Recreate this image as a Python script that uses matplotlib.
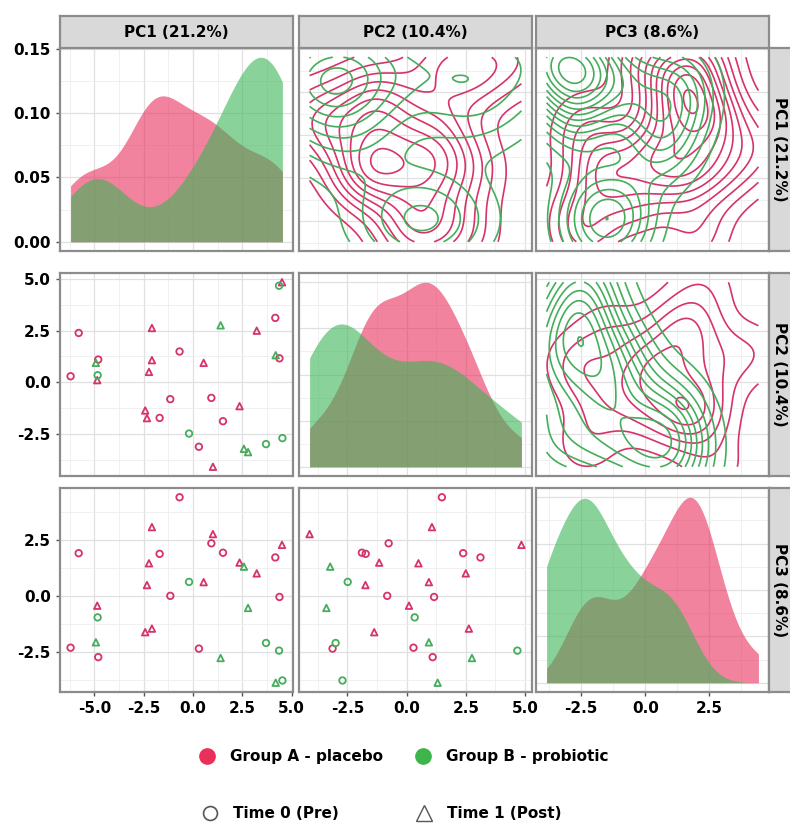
import numpy as np
import matplotlib.pyplot as plt
from matplotlib.lines import Line2D
from matplotlib.ticker import MultipleLocator, FixedLocator

# PCA scores
pc1 = [4.51, 4.36, 4.17, 3.23, 1.40, -5.79, -2.08, -0.68, -2.08, 0.54, -2.23,
       -4.80, -4.92, -4.83, -4.85, -6.20, 4.19, 4.38, -1.15, 0.93, 2.36, -2.42,
       -2.33, -1.69, 1.52, -0.20, 0.30, 2.58, 2.79, 3.70, 4.53, 1.01]
pc2 = [4.85, 4.68, 3.12, 2.50, 2.76, 2.39, 2.63, 1.49, 1.07, 0.94, 0.50,
       1.10, 0.94, 0.34, 0.10, 0.29, 1.31, 1.16, -0.82, -0.76, -1.16, -1.37,
       -1.74, -1.73, -1.89, -2.49, -3.13, -3.23, -3.39, -3.00, -2.71, -4.10]
pc3 = [2.29, -2.42, 1.73, 1.02, -2.75, 1.92, -1.44, 4.41, 3.08, 0.63, 1.47,
       -2.71, -2.05, -0.94, -0.42, -2.29, -3.85, -0.03, 0.02, 2.36, 1.50, -1.60,
       0.50, 1.89, 1.94, 0.64, -2.33, 1.32, -0.52, -2.08, -3.75, 2.77]
group = ['A', 'B', 'A', 'A', 'B', 'A', 'A', 'A', 'A', 'A', 'A',
         'A', 'B', 'B', 'A', 'A', 'B', 'A', 'A', 'A', 'A', 'A',
         'A', 'A', 'A', 'B', 'A', 'B', 'B', 'B', 'B', 'A']
time = ['post', 'pre', 'pre', 'post', 'post', 'pre', 'post', 'pre', 'post', 'post', 'post',
        'pre', 'post', 'pre', 'post', 'pre', 'post', 'pre', 'pre', 'pre', 'post', 'post',
        'post', 'pre', 'pre', 'pre', 'pre', 'post', 'post', 'pre', 'pre', 'post']

var_labels = ['PC1 (21.2%)', 'PC2 (10.4%)', 'PC3 (8.6%)']
group_labels = {'A': 'Group A - placebo', 'B': 'Group B - probiotic'}
time_labels = {'pre': 'Time 0 (Pre)', 'post': 'Time 1 (Post)'}
var_ticks = [[-5.0, -2.5, 0.0, 2.5, 5.0], [-2.5, 0.0, 2.5, 5.0], [-2.5, 0.0, 2.5]]
dens_ticks = [0.00, 0.05, 0.10, 0.15]

line_col = {'A': '#D6336A', 'B': '#45AD5C'}
fill_col = {'A': '#E8305F', 'B': '#3BB557'}
marker = {'pre': 'o', 'post': '^'}

data = np.array([pc1, pc2, pc3])
group = np.array(group)
time = np.array(time)


def bw_nrd0(x):
    q75, q25 = np.percentile(x, [75, 25])
    lo = min(np.std(x, ddof=1), (q75 - q25) / 1.34)
    return 0.9 * lo * len(x) ** -0.2


def kde1d(x, grid):
    h = bw_nrd0(x)
    u = (grid[:, None] - x[None, :]) / h
    return np.exp(-0.5 * u ** 2).sum(axis=1) / (len(x) * h * np.sqrt(2 * np.pi))


def bw_nrd(x):
    q75, q25 = np.percentile(x, [75, 25])
    return 4 * 1.06 * min(np.std(x, ddof=1), (q75 - q25) / 1.34) * len(x) ** -0.2


def kde2d(x, y, gx, gy):
    hx, hy = bw_nrd(x) / 4, bw_nrd(y) / 4
    ax_ = np.exp(-0.5 * ((gx[:, None] - x[None, :]) / hx) ** 2) / np.sqrt(2 * np.pi)
    ay_ = np.exp(-0.5 * ((gy[:, None] - y[None, :]) / hy) ** 2) / np.sqrt(2 * np.pi)
    return ax_ @ ay_.T / (len(x) * hx * hy)


def pretty(lo, hi, n=10):
    cell = (hi - lo) / n
    U = 10 ** np.floor(np.log10(cell))
    unit = U
    if 2 * U - cell < 1.5 * (cell - unit):
        unit = 2 * U
        if 5 * U - cell < 2.75 * (cell - unit):
            unit = 5 * U
            if 10 * U - cell < 1.5 * (cell - unit):
                unit = 10 * U
    return np.arange(np.floor(lo / unit), np.ceil(hi / unit) + 1) * unit


W, H = 790, 824
fig = plt.figure(figsize=(W / 100, H / 100), dpi=100)


def rect(x0, y0, x1, y1):
    return [x0 / W, 1 - y1 / H, (x1 - x0) / W, (y1 - y0) / H]


cols = [(60, 293), (299, 532), (536, 769)]
rows = [(48, 251), (273, 476), (488, 692)]

rng = [(d.min(), d.max()) for d in data]
lims = [(lo - 0.05 * (hi - lo), hi + 0.05 * (hi - lo)) for lo, hi in rng]


def style(ax):
    ax.set_facecolor('white')
    ax.grid(True, which='major', color='#E0E0E0', lw=0.9)
    ax.grid(True, which='minor', color='#EEEEEE', lw=0.6)
    ax.set_axisbelow(True)
    for s in ax.spines.values():
        s.set_color('#8C8C8C')
        s.set_linewidth(1.6)
    ax.tick_params(which='both', length=0)
    ax.tick_params(which='major', length=3, color='#555555', width=1)
    ax.tick_params(labelsize=11)


for i in range(3):
    for j in range(3):
        ax = fig.add_axes(rect(cols[j][0], rows[i][0], cols[j][1], rows[i][1]))
        style(ax)
        ax.set_xlim(lims[j])
        ax.xaxis.set_major_locator(FixedLocator(var_ticks[j]))
        ax.xaxis.set_minor_locator(MultipleLocator(1.25))
        if i == j:
            grid = np.linspace(rng[j][0], rng[j][1], 512)
            top = 0
            for g in ['A', 'B']:
                d = kde1d(data[j][group == g], grid)
                top = max(top, d.max())
                ax.fill_between(grid, 0, d, color=fill_col[g], alpha=0.6, lw=0)
            ax.set_ylim(-0.05 * top, top * 1.05)
            if i == 0:
                ax.yaxis.set_major_locator(FixedLocator(dens_ticks))
                ax.yaxis.set_minor_locator(MultipleLocator(0.025))
            else:
                ax.yaxis.set_minor_locator(MultipleLocator(top / 8))
                ax.yaxis.set_major_locator(MultipleLocator(top / 4))
        else:
            if i > j:
                for g in ['A', 'B']:
                    for t in ['pre', 'post']:
                        m = (group == g) & (time == t)
                        ax.scatter(data[j][m], data[i][m], marker=marker[t], s=22,
                                   facecolors='none', edgecolors=line_col[g],
                                   linewidths=1.3)
            else:
                gx = np.linspace(rng[j][0], rng[j][1], 100)
                gy = np.linspace(rng[i][0], rng[i][1], 100)
                for g in ['A', 'B']:
                    m = group == g
                    z = kde2d(data[j][m], data[i][m], gx, gy)
                    lv = pretty(z.min(), z.max())
                    lv = lv[(lv > z.min()) & (lv < z.max())]
                    ax.contour(gx, gy, z.T, levels=lv, colors=line_col[g],
                               linewidths=1.2)
            ax.set_ylim(lims[i])
            ax.yaxis.set_major_locator(FixedLocator(var_ticks[i]))
            ax.yaxis.set_minor_locator(MultipleLocator(1.25))

        if j == 0:
            if i == 0:
                ax.set_yticklabels(['0.00', '0.05', '0.10', '0.15'], fontweight='bold')
            else:
                ax.set_yticklabels([f'{v:.1f}' for v in var_ticks[i]], fontweight='bold')
        else:
            ax.tick_params(axis='y', which='major', length=0, labelleft=False)
        if i == 2:
            ax.set_xticklabels([f'{v:.1f}' for v in var_ticks[j]], fontweight='bold')
        else:
            ax.tick_params(axis='x', which='major', length=0, labelbottom=False)

# strips
for j in range(3):
    sa = fig.add_axes(rect(cols[j][0], 16, cols[j][1], 48))
    sa.set_facecolor('#D9D9D9')
    sa.set_xticks([])
    sa.set_yticks([])
    for s in sa.spines.values():
        s.set_color('#8C8C8C')
        s.set_linewidth(1.6)
    sa.text(0.5, 0.48, var_labels[j], ha='center', va='center', fontsize=11,
            fontweight='bold', transform=sa.transAxes)
for i in range(3):
    sa = fig.add_axes(rect(769, rows[i][0], 792, rows[i][1]))
    sa.set_facecolor('#D9D9D9')
    sa.set_xticks([])
    sa.set_yticks([])
    for s in sa.spines.values():
        s.set_color('#8C8C8C')
        s.set_linewidth(1.6)
    sa.text(0.45, 0.5, var_labels[i], ha='center', va='center', fontsize=11,
            fontweight='bold', rotation=-90, transform=sa.transAxes)

# legends
h1 = [Line2D([], [], ls='', marker='o', ms=11, color='#E8305A'),
      Line2D([], [], ls='', marker='o', ms=11, color='#3DB54A')]
fig.legend(h1, [group_labels['A'], group_labels['B']], loc='center',
           bbox_to_anchor=(0.5 + 8 / W, 1 - 757 / H), ncol=2, frameon=False,
           prop={'weight': 'bold', 'size': 11}, handletextpad=0.9,
           columnspacing=2.0, handlelength=1.2)
h2 = [Line2D([], [], ls='', marker='o', ms=10, mfc='none', mec='#555555', mew=1.2),
      Line2D([], [], ls='', marker='^', ms=11, mfc='none', mec='#555555', mew=1.0)]
fig.legend(h2, [time_labels['pre'], time_labels['post']], loc='center',
           bbox_to_anchor=(0.5 - 14 / W, 1 - 814 / H), ncol=2, frameon=False,
           prop={'weight': 'bold', 'size': 11}, handletextpad=0.9,
           columnspacing=5.0, handlelength=1.2)

fig.savefig('out.png', dpi=100)
